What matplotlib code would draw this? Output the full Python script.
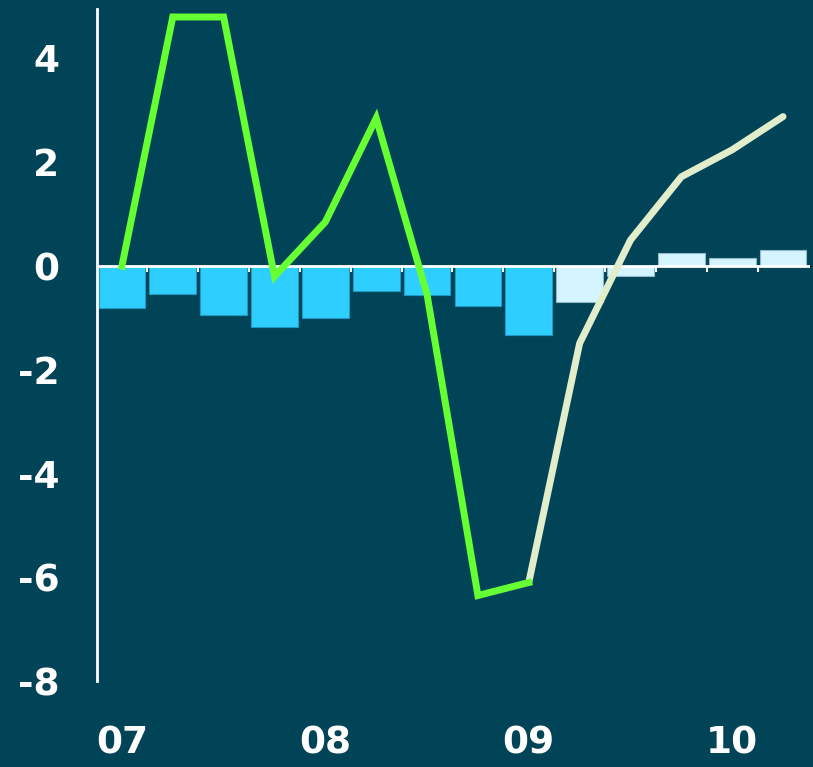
import matplotlib.pyplot as plt
from matplotlib import font_manager
import numpy as np

# quarterly data, 2007Q1 - 2010Q2
quarters = np.arange(14)
bars_actual = [-0.81, -0.53, -0.95, -1.18, -1.0, -0.49, -0.56, -0.78, -1.33]
bars_forecast = [-0.70, -0.20, 0.25, 0.15, 0.30]
line_actual = [0.0, 4.8, 4.8, -0.2, 0.85, 2.85, -0.55, -6.35, -6.1]
line_forecast = [-6.1, -1.49, 0.50, 1.72, 2.24, 2.88]
year_labels = ['07', '08', '09', '10']
y_ticks = [4, 2, 0, -2, -4, -6, -8]

bg = '#024457'

# narrow bold font if there is one
names = {f.name for f in font_manager.fontManager.ttflist}
font = 'Liberation Sans Narrow' if 'Liberation Sans Narrow' in names else 'DejaVu Sans'
fsize = 31 if font == 'Liberation Sans Narrow' else 27

fig = plt.figure(figsize=(8.13, 7.67), dpi=100, facecolor=bg)
ax = fig.add_axes([0.1193, 0.112, 0.877, 0.876], facecolor=bg)

n_act = len(bars_actual)
ax.bar(quarters[:n_act], bars_actual, width=0.92, color='#2ECFFF',
       edgecolor='#1C9CC4', linewidth=0.8, zorder=2)
ax.bar(quarters[n_act:], bars_forecast, width=0.92, color='#D4F5FF',
       edgecolor='#8FB8C8', linewidth=0.8, zorder=2)

ax.axhline(0, color='white', lw=2, zorder=3)

ax.plot(quarters[n_act - 1:], line_forecast, color='#E2EECB', lw=5,
        solid_capstyle='round', solid_joinstyle='round', zorder=4)
ax.plot(quarters[:n_act], line_actual, color='#66FF33', lw=5,
        solid_joinstyle='miter', zorder=5)

ax.set_xlim(-0.49, 13.53)
ax.set_ylim(-8, 4.95)

for s in ['top', 'right', 'bottom']:
    ax.spines[s].set_visible(False)
ax.spines['left'].set_color('white')
ax.spines['left'].set_linewidth(2)

ax.set_yticks(y_ticks)
ax.set_yticklabels([str(v) for v in y_ticks])
ax.tick_params(axis='y', length=0, pad=27, labelsize=fsize, labelcolor='white')
for lab in ax.get_yticklabels():
    lab.set_fontweight('bold')
    lab.set_family(font)

ax.set_xticks(quarters[::4])
ax.set_xticklabels(year_labels)
ax.tick_params(axis='x', length=0, pad=32, labelsize=fsize, labelcolor='white')
for lab in ax.get_xticklabels():
    lab.set_fontweight('bold')
    lab.set_family(font)

# small white ticks on the zero line between quarters
zero_frac = (0 - (-8)) / (4.95 - (-8))
sec = ax.secondary_xaxis(zero_frac)
sec.spines['bottom'].set_visible(False)
sec.set_xticks(quarters[1:] - 0.5)
sec.set_xticklabels([])
sec.tick_params(axis='x', length=4, width=1.5, color='white', direction='in')

fig.savefig('out.png', dpi=100, facecolor=bg)
